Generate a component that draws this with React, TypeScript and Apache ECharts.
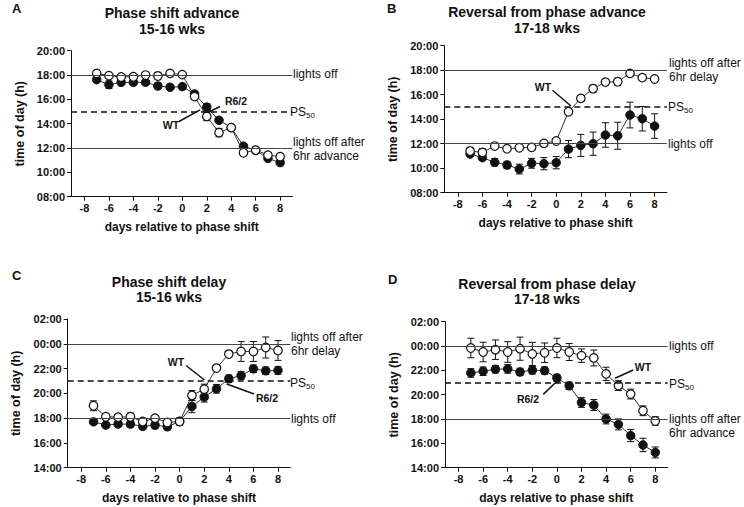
import React, { useEffect, useRef } from "react";
import * as echarts from "echarts";

const FONT = 'Arial, "Liberation Sans", Helvetica, sans-serif';

// days relative to phase shift
const days = [-7, -6, -5, -4, -3, -2, -1, 0, 1, 2, 3, 4, 5, 6, 7, 8];
const xTicks = [-8, -6, -4, -2, 0, 2, 4, 6, 8];

// Panel A: Phase shift advance 15-16 wks (hours)
const aWT = [18.14, 17.95, 17.84, 17.86, 18.0, 17.92, 18.14, 18.03, 16.23, 14.6, 13.27, 13.68, 11.61, 11.83, 11.42, 11.29];
const aWTErr = [0.12, 0.15, 0.2, 0.15, 0.1, 0.3, 0.2, 0.1, 0.25, 0.35, 0.35, 0.15, 0.25, 0.25, 0.2, 0.25];
const aR6 = [17.62, 17.21, 17.4, 17.4, 17.4, 17.1, 17.0, 17.05, 16.45, 15.36, 14.28, 13.68, 12.16, 11.8, 11.15, 10.8];
const aR6Err = [0.15, 0.3, 0.2, 0.2, 0.15, 0.25, 0.2, 0.2, 0.2, 0.3, 0.2, 0.15, 0.2, 0.2, 0.15, 0.2];

// Panel B: Reversal from phase advance 17-18 wks
const bWT = [11.4, 11.29, 11.81, 11.59, 11.67, 11.7, 12.03, 12.22, 14.61, 15.7, 16.49, 17.03, 17.06, 17.74, 17.39, 17.28];
const bWTErr = [0.3, 0.3, 0.12, 0.12, 0.12, 0.12, 0.1, 0.12, 0.2, 0.25, 0.3, 0.25, 0.3, 0.2, 0.2, 0.2];
const bR6 = [11.16, 10.86, 10.48, 10.26, 9.93, 10.4, 10.37, 10.45, 11.56, 11.86, 12.0, 12.71, 12.65, 14.34, 14.04, 13.44];
const bR6Err = [0.15, 0.2, 0.3, 0.3, 0.4, 0.4, 0.5, 0.5, 0.7, 0.9, 0.95, 1.0, 1.1, 1.05, 1.0, 1.0];

// Panel C: Phase shift delay 15-16 wks (hours past midnight continue above 24)
const cWT = [19.0, 18.11, 18.08, 18.11, 17.73, 18.0, 17.65, 17.73, 19.83, 20.34, 22.04, 23.17, 23.38, 23.38, 23.7, 23.46];
const cWTErr = [0.4, 0.2, 0.15, 0.3, 0.2, 0.15, 0.15, 0.3, 0.4, 0.4, 0.2, 0.25, 0.8, 0.8, 0.85, 0.8];
const cR6 = [17.7, 17.44, 17.52, 17.52, 17.33, 17.44, 17.3, 17.73, 18.94, 19.7, 20.37, 21.18, 21.44, 21.98, 21.82, 21.85];
const cR6Err = [0.15, 0.2, 0.2, 0.25, 0.2, 0.3, 0.25, 0.2, 0.5, 0.4, 0.35, 0.3, 0.3, 0.3, 0.3, 0.3];

// Panel D: Reversal from phase delay 17-18 wks
const dWT = [23.84, 23.51, 23.7, 23.51, 23.78, 23.35, 23.45, 23.84, 23.51, 23.21, 23.02, 21.71, 20.75, 20.05, 18.68, 17.84];
const dWTErr = [0.8, 0.8, 0.8, 0.85, 0.95, 0.95, 0.8, 0.8, 0.7, 0.55, 0.65, 0.55, 0.4, 0.4, 0.4, 0.35];
const dR6 = [21.79, 21.93, 22.09, 22.12, 21.87, 22.01, 21.98, 21.38, 20.73, 19.36, 19.15, 18.0, 17.56, 16.64, 15.87, 15.25];
const dR6Err = [0.35, 0.35, 0.3, 0.35, 0.3, 0.3, 0.3, 0.3, 0.3, 0.4, 0.45, 0.4, 0.45, 0.5, 0.55, 0.45];

// reference lines (lights off / PS50 / shifted lights off)
const refsA = [18, 15, 12];
const refsB = [18, 15, 12];
const refsC = [24, 21, 18];
const refsD = [24, 21, 18];

// annotation arrows in data coordinates: [fromX, fromY, toX, toY]
const arrowsA = [[3.08, 15.41, 2.18, 14.96], [-0.27, 14.18, 1.45, 15.13]];
const arrowsB = [[-0.3, 16.36, 1.2, 15.08]];
const arrowsC = [[0.52, 22.25, 2.02, 21.08], [6.05, 19.95, 3.83, 20.75]];
const arrowsD = [[6.21, 22.03, 4.72, 21.35], [-1.11, 20.03, 0.11, 21.21]];

const panels = [
  { g: [71, 50.7, 221.4, 146], yMin: 8, yMax: 20, wt: aWT, wtE: aWTErr, r6: aR6, r6E: aR6Err, refs: refsA, dashed: 15, arrows: arrowsA },
  { g: [444.3, 45.7, 222.6, 147], yMin: 8, yMax: 20, wt: bWT, wtE: bWTErr, r6: bR6, r6E: bR6Err, refs: refsB, dashed: 15, arrows: arrowsB },
  { g: [67.7, 319, 222.6, 148.7], yMin: 14, yMax: 26, wt: cWT, wtE: cWTErr, r6: cR6, r6E: cR6Err, refs: refsC, dashed: 21, arrows: arrowsC },
  { g: [445, 321.7, 222.6, 146], yMin: 14, yMax: 26, wt: dWT, wtE: dWTErr, r6: dR6, r6E: dR6Err, refs: refsD, dashed: 21, arrows: arrowsD },
];

const hhmm = (v: number) => {
  const h = ((Math.round(v) % 24) + 24) % 24;
  return (h < 10 ? "0" : "") + h + ":00";
};

function errRender(params: any, api: any) {
  const x = api.value(0);
  const y = api.value(1);
  const e = api.value(2);
  const top = api.coord([x, y + e]);
  const bot = api.coord([x, y - e]);
  const cap = 3.5;
  const st = { stroke: "#111", lineWidth: 1 };
  return {
    type: "group",
    children: [
      { type: "line", shape: { x1: top[0], y1: top[1], x2: bot[0], y2: bot[1] }, style: st },
      { type: "line", shape: { x1: top[0] - cap, y1: top[1], x2: top[0] + cap, y2: top[1] }, style: st },
      { type: "line", shape: { x1: bot[0] - cap, y1: bot[1], x2: bot[0] + cap, y2: bot[1] }, style: st },
    ],
  };
}

function txt(x: number, y: number, text: string, size: number, bold: boolean, align = "left") {
  return {
    type: "text",
    x,
    y,
    silent: true,
    style: {
      text,
      fontSize: size,
      fontWeight: bold ? "bold" : "normal",
      fontFamily: FONT,
      fill: "#111",
      textAlign: align,
      textVerticalAlign: "middle",
      align,
      verticalAlign: "middle",
    },
  };
}

function ps50(x: number, y: number) {
  return [txt(x, y, "PS", 12, false), txt(x + 16, y + 3.5, "50", 8, false)];
}

export default function App() {
  const ref = useRef<HTMLDivElement>(null);
  useEffect(() => {
    if (!ref.current) return;
    const chart = echarts.init(ref.current, undefined, { renderer: "svg" });

    const grid = panels.map((p) => ({ left: p.g[0], top: p.g[1], width: p.g[2], height: p.g[3] }));
    const xAxis = panels.map((p, i) => ({
      type: "value",
      gridIndex: i,
      min: -9.1,
      max: 9,
      axisLine: { show: true, onZero: false, lineStyle: { color: "#111", width: 1 } },
      axisTick: { show: true, customValues: xTicks, length: 4, lineStyle: { color: "#111" } },
      axisLabel: { customValues: xTicks, margin: 6, fontSize: 11, fontWeight: "bold", color: "#111", fontFamily: FONT },
      splitLine: { show: false },
      name: "days relative to phase shift",
      nameLocation: "middle",
      nameGap: 24,
      nameTextStyle: { fontSize: 12, fontWeight: "bold", color: "#111", fontFamily: FONT },
    }));
    const yAxis = panels.map((p, i) => ({
      type: "value",
      gridIndex: i,
      min: p.yMin,
      max: p.yMax,
      interval: 2,
      axisLine: { show: true, onZero: false, lineStyle: { color: "#111", width: 1 } },
      axisTick: { show: true, length: 4, lineStyle: { color: "#111" } },
      axisLabel: { formatter: hhmm, margin: 6, fontSize: 11, fontWeight: "bold", color: "#111", fontFamily: FONT },
      splitLine: { show: false },
      name: "time of day (h)",
      nameLocation: "middle",
      nameRotate: 90,
      nameGap: 45,
      nameTextStyle: { fontSize: 12.5, fontWeight: "bold", color: "#111", fontFamily: FONT },
    }));

    const series: any[] = [];
    panels.forEach((p, i) => {
      series.push({
        type: "line",
        xAxisIndex: i,
        yAxisIndex: i,
        data: [],
        z: 1,
        silent: true,
        markLine: {
          silent: true,
          symbol: ["none", "none"],
          label: { show: false },
          data: p.refs.map((v) => ({
            yAxis: v,
            lineStyle:
              v === p.dashed
                ? { color: "#111", width: 1.6, type: [6, 4] }
                : { color: "#444", width: 1, type: "solid" },
          })),
        },
      });
      series.push({
        type: "custom",
        xAxisIndex: i,
        yAxisIndex: i,
        renderItem: errRender,
        encode: { x: 0, y: 1 },
        data: days.map((d, k) => [d, p.r6[k], p.r6E[k]]),
        z: 2,
        silent: true,
      });
      series.push({
        type: "custom",
        xAxisIndex: i,
        yAxisIndex: i,
        renderItem: errRender,
        encode: { x: 0, y: 1 },
        data: days.map((d, k) => [d, p.wt[k], p.wtE[k]]),
        z: 2,
        silent: true,
      });
      series.push({
        name: "R6/2",
        type: "line",
        xAxisIndex: i,
        yAxisIndex: i,
        data: days.map((d, k) => [d, p.r6[k]]),
        symbol: "circle",
        symbolSize: 8.5,
        itemStyle: { color: "#111", borderColor: "#111", borderWidth: 1 },
        lineStyle: { color: "#333", width: 1 },
        z: 3,
        silent: true,
      });
      series.push({
        name: "WT",
        type: "line",
        xAxisIndex: i,
        yAxisIndex: i,
        data: days.map((d, k) => [d, p.wt[k]]),
        symbol: "circle",
        symbolSize: 8.5,
        itemStyle: { color: "#fff", borderColor: "#111", borderWidth: 1.2 },
        lineStyle: { color: "#333", width: 1 },
        z: 4,
        silent: true,
      });
      series.push({
        type: "line",
        xAxisIndex: i,
        yAxisIndex: i,
        data: [],
        z: 5,
        silent: true,
        markLine: {
          silent: true,
          symbol: ["none", "arrow"],
          symbolSize: [0, 7],
          label: { show: false },
          lineStyle: { color: "#111", width: 1.5, type: "solid" },
          data: p.arrows.map((a) => [{ coord: [a[0], a[1]] }, { coord: [a[2], a[3]] }]),
        },
      });
    });

    const graphic: any[] = [
      // panel letters
      txt(12, 8, "A", 13, true),
      txt(387, 8, "B", 13, true),
      txt(12, 275, "C", 13, true),
      txt(388, 279, "D", 13, true),
      // titles
      txt(172, 13, "Phase shift advance", 14, true, "center"),
      txt(172, 28.5, "15-16 wks", 14, true, "center"),
      txt(547, 12, "Reversal from phase advance", 14, true, "center"),
      txt(547, 27.5, "17-18 wks", 14, true, "center"),
      txt(169, 282, "Phase shift delay", 14, true, "center"),
      txt(169, 297, "15-16 wks", 14, true, "center"),
      txt(547, 283.5, "Reversal from phase delay", 14, true, "center"),
      txt(547, 298.5, "17-18 wks", 14, true, "center"),
      // panel A annotations
      txt(293, 73.5, "lights off", 12, false),
      ...ps50(290, 111.7),
      txt(293, 141.7, "lights off after", 12, false),
      txt(293, 155.7, "6hr advance", 12, false),
      txt(236, 101, "R6/2", 10.5, true, "center"),
      txt(171, 124.5, "WT", 10.5, true, "center"),
      // panel B annotations
      txt(669, 62.7, "lights off after", 12, false),
      txt(669, 77.3, "6hr delay", 12, false),
      ...ps50(668, 107.3),
      txt(668, 144.3, "lights off", 12, false),
      txt(543, 87, "WT", 10.5, true, "center"),
      // panel C annotations
      txt(291, 337.3, "lights off after", 12, false),
      txt(291, 351, "6hr delay", 12, false),
      ...ps50(290, 382.7),
      txt(291, 419, "lights off", 12, false),
      txt(176, 362, "WT", 10.5, true, "center"),
      txt(267, 397.5, "R6/2", 10.5, true, "center"),
      // panel D annotations
      txt(669, 345.7, "lights off", 12, false),
      ...ps50(669, 384.3),
      txt(669, 419.3, "lights off after", 12, false),
      txt(669, 433.3, "6hr advance", 12, false),
      txt(643, 367, "WT", 10.5, true, "center"),
      txt(528, 399, "R6/2", 10.5, true, "center"),
    ];

    chart.setOption({
      animation: false,
      backgroundColor: "#fff",
      textStyle: { fontFamily: FONT },
      grid,
      xAxis,
      yAxis,
      series,
      graphic,
    });
    return () => chart.dispose();
  }, []);

  return (
    <div
      ref={ref}
      style={{ position: "fixed", left: 0, top: 0, width: 744, height: 507, background: "#fff" }}
    />
  );
}
